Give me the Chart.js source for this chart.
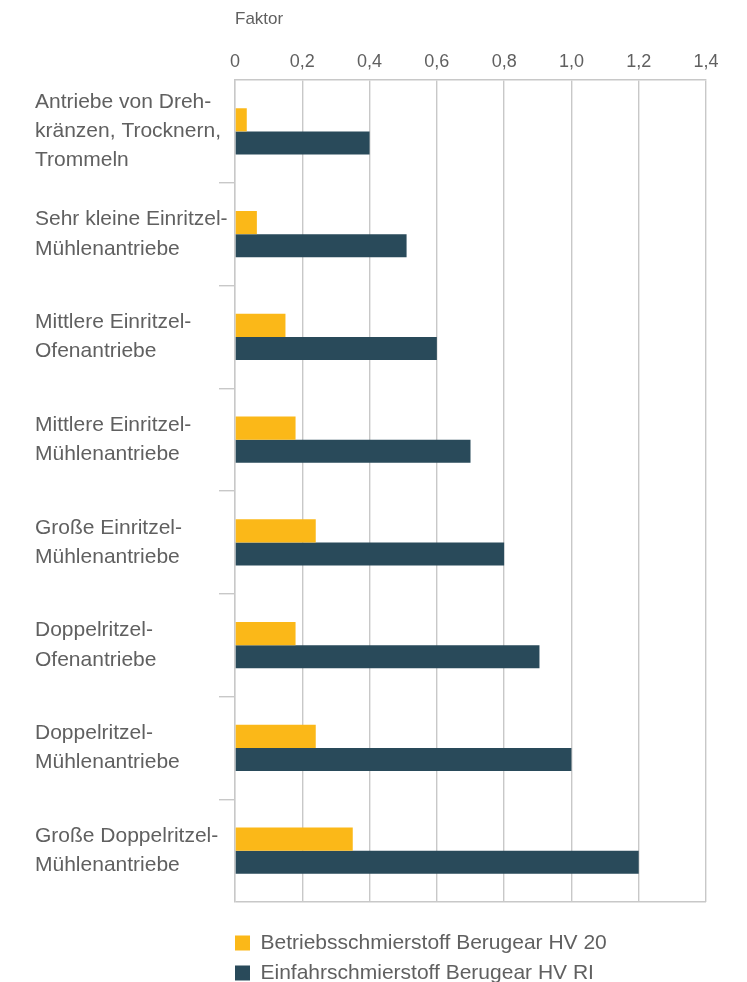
<!DOCTYPE html>
<html>
<head>
<meta charset="utf-8">
<script src="https://cdn.jsdelivr.net/npm/chart.js@4.4.1/dist/chart.umd.min.js"></script>
<style>
  html, body { margin: 0; padding: 0; background: #ffffff; }
  canvas { display: block; }
</style>
</head>
<body>
<canvas id="c" width="747" height="982"></canvas>
<script>
const categories = [
  ['Antriebe von Dreh-', 'kränzen, Trocknern,', 'Trommeln'],
  ['Sehr kleine Einritzel-', 'Mühlenantriebe'],
  ['Mittlere Einritzel-', 'Ofenantriebe'],
  ['Mittlere Einritzel-', 'Mühlenantriebe'],
  ['Große Einritzel-', 'Mühlenantriebe'],
  ['Doppelritzel-', 'Ofenantriebe'],
  ['Doppelritzel-', 'Mühlenantriebe'],
  ['Große Doppelritzel-', 'Mühlenantriebe']
];
const seriesNames = ['Betriebsschmierstoff Berugear HV 20', 'Einfahrschmierstoff Berugear HV RI'];
const betriebValues = [0.035, 0.065, 0.15, 0.18, 0.24, 0.18, 0.24, 0.35];
const einfahrValues = [0.40, 0.51, 0.60, 0.70, 0.80, 0.905, 1.00, 1.20];
const xTickLabels = ['0', '0,2', '0,4', '0,6', '0,8', '1,0', '1,2', '1,4'];
const axisTitle = 'Faktor';

const FONT = "'Liberation Sans', Arial, Helvetica, sans-serif";
const TEXT = '#606060';
const GRID = '#c8c8c8';

const legendShift = {
  id: 'legendShift',
  afterLayout(chart) {
    const pad = chart.options.plugins.legend.labels.padding;
    chart.legend.left -= pad;
    chart.legend.right -= pad;
  }
};

new Chart(document.getElementById('c'), {
  type: 'bar',
  data: {
    labels: categories,
    datasets: [
      { label: seriesNames[0], data: betriebValues, backgroundColor: '#fbb818', borderWidth: 0 },
      { label: seriesNames[1], data: einfahrValues, backgroundColor: '#294a5a', borderWidth: 0 }
    ]
  },
  options: {
    indexAxis: 'y',
    responsive: false,
    devicePixelRatio: 1,
    animation: false,
    barPercentage: 1,
    categoryPercentage: 0.45,
    layout: { padding: { left: 35, right: 41, top: 0, bottom: -11.5 } },
    scales: {
      x: {
        position: 'top',
        min: 0,
        max: 1.4,
        afterFit: s => { s.height = 80; },
        ticks: {
          stepSize: 0.2,
          padding: 7,
          color: TEXT,
          font: { family: FONT, size: 18 },
          callback: (v, i) => xTickLabels[i]
        },
        grid: { color: GRID, lineWidth: 1.4, drawTicks: false },
        border: { display: true, color: GRID, width: 1.4 },
        title: {
          display: true,
          text: axisTitle,
          align: 'start',
          color: TEXT,
          font: { family: FONT, size: 17 },
          padding: { top: 9, bottom: 0 }
        }
      },
      x2: {
        type: 'linear',
        position: 'bottom',
        axis: 'x',
        min: 0,
        max: 1.4,
        afterFit: s => { s.height = 21.5; },
        ticks: { display: false },
        grid: { display: false },
        border: { display: false }
      },
      y: {
        afterFit: s => { s.width = 200; },
        ticks: {
          crossAlign: 'far',
          padding: 0,
          color: TEXT,
          font: { family: FONT, size: 21, lineHeight: 1.39 }
        },
        grid: {
          offset: true,
          drawOnChartArea: true,
          tickLength: 16,
          lineWidth: 1.4,
          color: ctx => ctx.index === undefined ? GRID : 'rgba(0,0,0,0)',
          tickColor: ctx => (ctx.index > 0) ? GRID : 'rgba(0,0,0,0)'
        },
        border: { display: true, color: GRID, width: 1.4 }
      }
    },
    plugins: {
      tooltip: { enabled: false },
      legend: {
        position: 'bottom',
        align: 'start',
        fullSize: false,
        labels: {
          boxWidth: 15,
          boxHeight: 15,
          padding: 9,
          color: TEXT,
          font: { family: FONT, size: 21 }
        }
      }
    }
  },
  plugins: [legendShift]
});
</script>
</body>
</html>
